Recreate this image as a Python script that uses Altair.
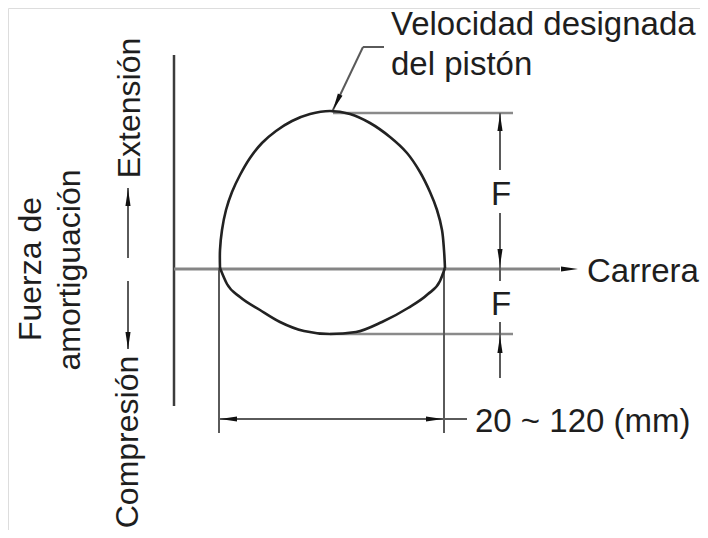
import math
import altair as alt
import pandas as pd

# ---------------- data (image pixel coordinates of the schematic) ----------------
upper_x = [220, 220, 222, 226, 232, 240, 250, 262, 276, 292, 310, 330, 350, 370, 390, 407, 420, 430, 437, 442, 444, 445]
upper_y = [268, 250, 230, 210, 192, 175, 158, 143, 131, 121, 114, 111, 114, 123, 137, 153, 172, 192, 210, 230, 250, 268]
lower_x = [220, 227, 240, 260, 280, 304, 330, 356, 382, 408, 428, 440, 445]
lower_y = [268, 284, 297, 310, 322, 331, 334, 332, 322, 308, 294, 281, 268]

seg_x1 = [174, 174, 333, 330, 500, 500, 500, 219, 219, 444, 332, 363, 128, 128]
seg_y1 = [55, 269, 113, 334, 113, 213, 322, 419, 268, 268, 112, 47, 188, 281]
seg_x2 = [174, 560, 513, 513, 500, 500, 500, 467, 219, 444, 363, 384, 128, 128]
seg_y2 = [406, 269, 113, 334, 170, 281, 378, 419, 433, 433, 47, 47, 258, 349]
seg_kind = ["axis", "haxis", "ref", "ref", "dim", "dim", "dim", "dim", "dim", "dim", "dim", "dim", "dim", "dim"]

arrow_tip_x = [500, 500, 500, 220, 443, 578, 128, 128, 333]
arrow_tip_y = [114, 266, 336, 419, 419, 269, 189, 349, 110]
arrow_angle = [0, 180, 0, 270, 90, 90, 0, 180, 205]

labels = ["Velocidad designada", "del pistón", "Carrera", "F", "F", "20 ~ 120 (mm)"]
label_x = [391, 391, 587, 501, 501, 475]
label_y = [35, 75, 282, 205, 315, 432]
label_align = ["left", "left", "left", "center", "center", "left"]

vlabels = ["Extensión", "Compresión", "Fuerza de", "amortiguación"]
vlabel_x = [140, 138, 41, 80]
vlabel_y = [108, 442, 269, 270]

# ---------------- build tables ----------------
upper = pd.DataFrame({"x": upper_x, "y": upper_y, "i": range(len(upper_x))})
lower = pd.DataFrame({"x": lower_x, "y": lower_y, "i": range(len(lower_x))})

style = {
    "axis": ("#3c3c3c", 2.5),
    "haxis": ("#858585", 3),
    "ref": ("#8a8a8a", 2.5),
    "dim": ("#5a5a5a", 2),
}
segs = pd.DataFrame({
    "x": seg_x1, "y": seg_y1, "x2": seg_x2, "y2": seg_y2,
    "color": [style[k][0] for k in seg_kind],
    "sw": [style[k][1] for k in seg_kind],
})

L = 17
arrows = pd.DataFrame({
    "x": [tx - L / 2 * math.sin(math.radians(a)) for tx, a in zip(arrow_tip_x, arrow_angle)],
    "y": [ty + L / 2 * math.cos(math.radians(a)) for ty, a in zip(arrow_tip_y, arrow_angle)],
    "angle": arrow_angle,
})

texts = pd.DataFrame({"t": labels, "x": label_x, "y": label_y, "align": label_align})
vtexts = pd.DataFrame({"t": vlabels, "x": vlabel_x, "y": vlabel_y})

# ---------------- scales mapping to page pixels ----------------
W, H = 692, 522
xs = alt.Scale(domain=[8, 8 + W], nice=False, zero=False)
ys = alt.Scale(domain=[8, 8 + H], nice=False, zero=False, reverse=True)
X = lambda f="x": alt.X(f"{f}:Q", scale=xs, axis=None)
Y = lambda f="y": alt.Y(f"{f}:Q", scale=ys, axis=None)

rules = alt.Chart(segs).mark_rule(strokeCap="butt").encode(
    x=X(), y=Y(), x2="x2:Q", y2="y2:Q",
    color=alt.Color("color:N", scale=None),
    strokeWidth=alt.StrokeWidth("sw:Q", scale=None),
)

arc_up = alt.Chart(upper).mark_line(
    color="#222222", strokeWidth=2.6, interpolate="catmull-rom"
).encode(x=X(), y=Y(), order="i:Q")

arc_low = alt.Chart(lower).mark_line(
    color="#222222", strokeWidth=2.6, interpolate="monotone"
).encode(x=X(), y=Y(), order="i:Q")

heads = alt.Chart(arrows).mark_point(
    shape="M0,-1L0.3,1L-0.3,1Z", size=L * L, filled=True, color="#111111", opacity=1, strokeWidth=0
).encode(x=X(), y=Y(), angle=alt.Angle("angle:Q", scale=None))

font = "Liberation Sans"
txt_layers = []
for al in ["left", "center"]:
    txt_layers.append(
        alt.Chart(texts[texts["align"] == al]).mark_text(
            font=font, fontSize=33, align=al, baseline="alphabetic", color="#1e1e1e"
        ).encode(x=X(), y=Y(), text="t:N")
    )

vtxt = alt.Chart(vtexts).mark_text(
    font=font, fontSize=32, align="center", baseline="alphabetic", angle=270, color="#1e1e1e"
).encode(x=X(), y=Y(), text="t:N")

chart = alt.layer(rules, arc_up, arc_low, heads, *txt_layers, vtxt).properties(
    width=W, height=H, padding=0, autosize=alt.AutoSizeParams(type="none")
).configure_view(stroke=None).configure(background="white")

chart.save("out.html", embed_options={"renderer": "svg", "actions": False})
